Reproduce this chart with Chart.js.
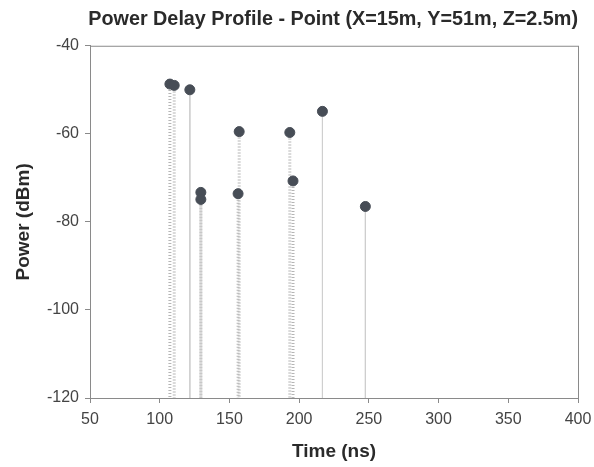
<!DOCTYPE html>
<html>
<head>
<meta charset="utf-8">
<script src="https://cdn.jsdelivr.net/npm/chart.js@4/dist/chart.umd.min.js"></script>
<style>
  html, body { margin: 0; padding: 0; background: #fff; }
  #wrap { width: 594px; height: 467px; }
</style>
</head>
<body>
<div id="wrap"><canvas id="chart1" width="594" height="467"></canvas></div>
<script>
// delay (ns) and received power (dBm) of each ray
var times  = [107.3, 110.4, 121.6, 129.5, 129.5, 156.2, 157.0, 193.3, 195.6, 216.7, 247.5];
var powers = [-48.7, -49.0, -50.0, -73.3, -74.9, -73.6, -59.5, -59.7, -70.7, -54.9, -76.5];

var xTicks = [50, 100, 150, 200, 250, 300, 350, 400];
var yTicks = [-120, -100, -80, -60, -40];

var floorPower = yTicks[0];

var points = times.map(function (t, i) { return {x: t, y: powers[i]}; });

// one stem per ray, dotted when another ray arrives within a few ns
var stems = times.map(function (t, i) {
  var close = times.some(function (u, j) { return j != i && Math.abs(u - t) < 5; });
  return {
    type: 'line',
    data: [{x: t, y: powers[i]}, {x: t, y: floorPower}],
    borderColor: close ? '#b5b5b5' : '#cfcfcf',
    borderWidth: close ? 3 : 1,
    borderDash: close ? [1, 2] : [],
    pointRadius: 0,
    order: 2
  };
});

// thin grey frame round the plot area
var frame = {
  id: 'frame',
  afterDraw: function (chart) {
    var a = chart.chartArea, c = chart.ctx;
    c.save();
    c.strokeStyle = '#8a8a8a';
    c.lineWidth = 1;
    c.strokeRect(a.left + 0.5, a.top + 0.5, a.right - a.left, a.bottom - a.top);
    c.restore();
  }
};

var ctx = document.getElementById('chart1').getContext('2d');
var chart = new Chart(ctx, {
  type: 'scatter',
  data: {
    datasets: stems.concat([{
      label: 'Power',
      data: points,
      backgroundColor: '#474d56',
      borderColor: '#474d56',
      pointRadius: 5,
      order: 1
    }])
  },
  options: {
    responsive: false,
    animation: false,
    layout: { padding: { left: 0, right: 16, top: 0, bottom: 0 } },
    plugins: {
      legend: { display: false },
      tooltip: { enabled: false },
      title: {
        display: true,
        text: 'Power Delay Profile - Point (X=15m, Y=51m, Z=2.5m)',
        align: 'end',
        color: '#2a2a2a',
        font: { family: 'Liberation Sans', size: 19.8, weight: 'bold' },
        padding: { top: 8, bottom: 14 }
      }
    },
    scales: {
      x: {
        type: 'linear',
        min: 50, max: 400,
        afterBuildTicks: function (s) { s.ticks = xTicks.map(function (v) { return {value: v}; }); },
        afterFit: function (s) { s.height = 69; s.paddingRight = 0; },
        grid: { drawOnChartArea: false, drawTicks: true, tickLength: 5, color: '#8a8a8a' },
        border: { color: '#8a8a8a' },
        ticks: { color: '#444', font: { family: 'Liberation Sans', size: 16 }, padding: 7, maxRotation: 0 },
        title: {
          display: true, text: 'Time (ns)', color: '#2a2a2a',
          font: { family: 'Liberation Sans', size: 19, weight: 'bold' },
          padding: { top: 2, bottom: 4 }
        }
      },
      y: {
        type: 'linear',
        min: -120, max: -40,
        afterBuildTicks: function (s) { s.ticks = yTicks.map(function (v) { return {value: v}; }); },
        afterFit: function (s) { s.width = 90; },
        grid: { drawOnChartArea: false, drawTicks: true, tickLength: 5, color: '#8a8a8a' },
        border: { color: '#8a8a8a' },
        ticks: { color: '#444', font: { family: 'Liberation Sans', size: 16 }, padding: 6 },
        title: {
          display: true, text: 'Power (dBm)', color: '#2a2a2a',
          font: { family: 'Liberation Sans', size: 19, weight: 'bold' },
          padding: { top: 12, bottom: 2 }
        }
      }
    }
  },
  plugins: [frame]
});
</script>
</body>
</html>
